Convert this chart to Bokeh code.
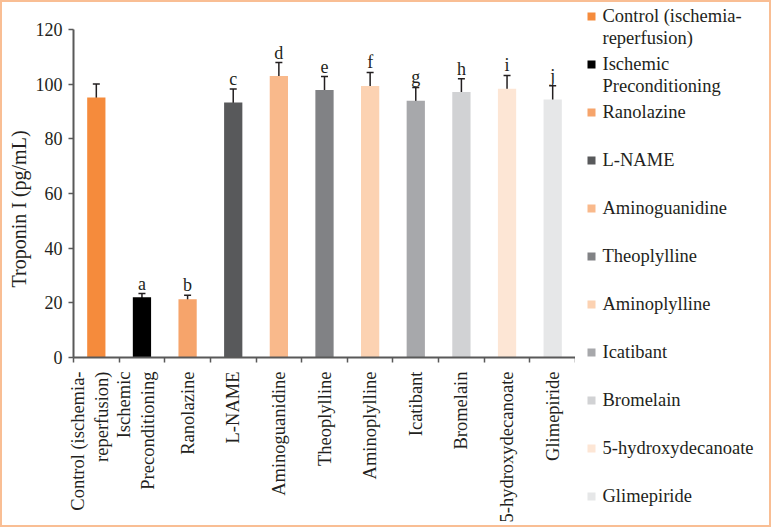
import math
from bokeh.plotting import figure
from bokeh.models import Range1d, FixedTicker, Whisker, ColumnDataSource, TeeHead, Title
from bokeh.layouts import row
from bokeh.embed import file_html
from bokeh.resources import INLINE
from bokeh.core.properties import value

# ---------------- data ----------------
groups = ["Control (ischemia-reperfusion)", "Ischemic Preconditioning", "Ranolazine",
          "L-NAME", "Aminoguanidine", "Theoplylline", "Aminoplylline", "Icatibant",
          "Bromelain", "5-hydroxydecanoate", "Glimepiride"]
tick_labels = ["Control (ischemia-\nreperfusion)", "Ischemic\nPreconditioning", "Ranolazine",
               "L-NAME", "Aminoguanidine", "Theoplylline", "Aminoplylline", "Icatibant",
               "Bromelain", "5-hydroxydecanoate", "Glimepiride"]
legend_labels = ["Control (ischemia-\nreperfusion)", "Ischemic\nPreconditioning", "Ranolazine",
                 "L-NAME", "Aminoguanidine", "Theoplylline", "Aminoplylline", "Icatibant",
                 "Bromelain", "5-hydroxydecanoate", "Glimepiride"]
troponin = [95.1, 22.0, 21.3, 93.3, 103.0, 97.9, 99.3, 93.9, 97.1, 98.3, 94.4]
error = [5.0, 1.4, 1.5, 4.9, 4.9, 4.9, 5.0, 4.9, 4.9, 4.9, 5.0]
letters = ["", "a", "b", "c", "d", "e", "f", "g", "h", "i", "j"]
colors = ["#F58B3C", "#000000", "#F6A46B", "#58595B", "#F9B98B", "#818285",
          "#FCD2B2", "#A7A8AB", "#D1D2D4", "#FDE6D5", "#E6E7E8"]
y_ticks = [0, 20, 40, 60, 80, 100, 120]
y_title = "Troponin I (pg/mL)"

FONT = "Liberation Serif"
TEXT = "#231F20"
AXIS = "#595959"

n = len(groups)
centers = [i + 0.5 for i in range(n)]
bounds = list(range(n + 1))
# two-line labels are nudged slightly left so their block centres on the bar
label_pos = [c - (0.13 if "\n" in lab else 0.0) for c, lab in zip(centers, tick_labels)]

src = ColumnDataSource(dict(
    x=centers, top=troponin, color=colors,
    upper=[t + e for t, e in zip(troponin, error)],
    lower=[t - e for t, e in zip(troponin, error)],
    letter=letters,
))

# ---------------- main chart ----------------
p = figure(width=573, height=523, x_range=Range1d(0, n), y_range=Range1d(0, 120),
           output_backend="svg", toolbar_location=None,
           min_border_left=66, min_border_right=0, min_border_top=27, min_border_bottom=168)
p.frame_align = False
p.outline_line_color = None
p.xgrid.visible = False
p.ygrid.visible = False
p.background_fill_color = "white"

p.vbar(x="x", top="top", width=0.4, fill_color="color", line_color=None, source=src)
wh = Whisker(base="x", upper="upper", lower="lower", source=src,
             line_color="#231F20", line_width=1.5,
             upper_head=TeeHead(size=7, line_color="#231F20", line_width=1.5),
             lower_head=TeeHead(size=7, line_color="#231F20", line_width=1.5))
p.add_layout(wh)
p.text(x="x", y="upper", text="letter", source=src, text_align="center",
       text_baseline="alphabetic", y_offset=-10, text_font=value(FONT),
       text_font_size="18px", text_color=TEXT)

# x axis
xa = p.xaxis[0]
xa.ticker = FixedTicker(ticks=label_pos, minor_ticks=bounds)
xa.major_label_overrides = {c: lab for c, lab in zip(label_pos, tick_labels)}
xa.major_label_orientation = math.pi / 2
xa.major_tick_line_color = None
xa.major_tick_out = 0
xa.major_tick_in = 0
xa.minor_tick_out = 5
xa.minor_tick_in = 0
xa.minor_tick_line_color = AXIS
xa.minor_tick_line_width = 1.5
xa.axis_line_color = AXIS
xa.axis_line_width = 2
xa.major_label_text_font = FONT
xa.major_label_text_font_size = "18.5px"
xa.major_label_text_color = TEXT
xa.major_label_standoff = 9

# y axis
ya = p.yaxis[0]
ya.ticker = FixedTicker(ticks=y_ticks)
ya.major_tick_out = 5
ya.major_tick_in = 0
ya.minor_tick_line_color = None
ya.major_tick_line_color = AXIS
ya.major_tick_line_width = 1.5
ya.axis_line_color = AXIS
ya.axis_line_width = 2
ya.major_label_text_font = FONT
ya.major_label_text_font_size = "18px"
ya.major_label_text_color = TEXT
ya.major_label_standoff = 6

ytitle = Title(text=y_title, align="left", offset=70, standoff=6,
               text_font=FONT, text_font_size="20px", text_font_style="normal",
               text_color=TEXT)
p.add_layout(ytitle, "left")

# ---------------- legend panel ----------------
LW, LH = 194, 523
lg = figure(width=LW, height=LH, x_range=Range1d(0, LW), y_range=Range1d(LH, 0),
            output_backend="svg", toolbar_location=None,
            min_border=0, min_border_left=0, min_border_right=0,
            min_border_top=0, min_border_bottom=0)
lg.frame_align = False
lg.axis.visible = False
lg.grid.visible = False
lg.outline_line_color = None

item_y = [14 + 48 * i for i in range(n)]
lsrc = ColumnDataSource(dict(y=item_y, color=colors, label=legend_labels,
                             ty=[v - 11 for v in item_y]))
lg.scatter(x=16, y="y", marker="square", size=8, fill_color="color", line_color=None, source=lsrc)
lg.text(x=27, y="ty", text="label", source=lsrc, text_align="left", text_baseline="top",
        text_font=value(FONT), text_font_size="18.5px", text_color=TEXT,
        text_line_height=1.12)

layout = row(p, lg, styles={"border": "2px solid #F9BE94"})

open("out.html", "w").write(file_html(layout, INLINE))
